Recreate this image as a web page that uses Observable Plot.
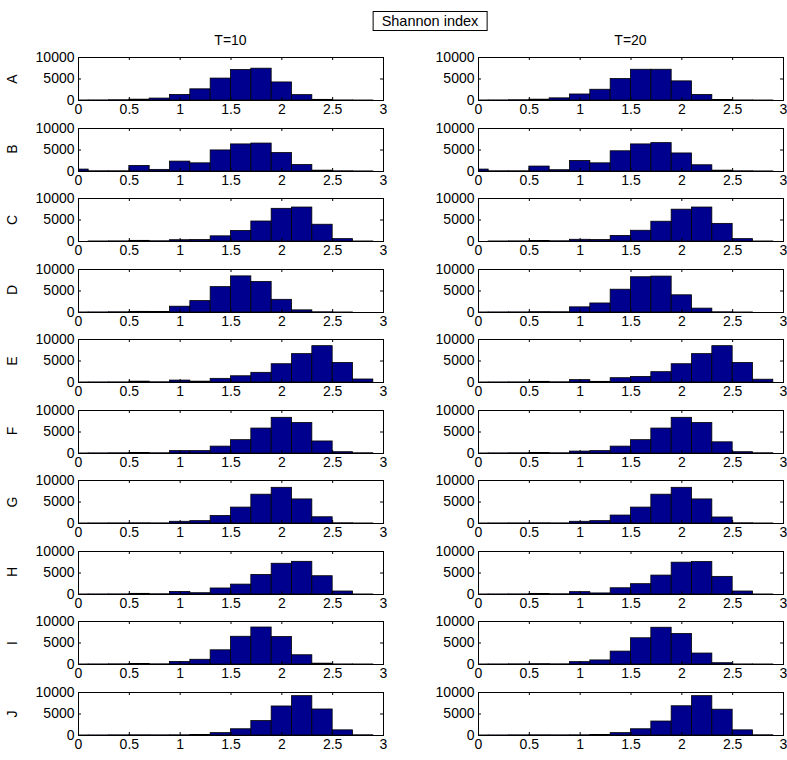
<!DOCTYPE html>
<html><head><meta charset="utf-8">
<script src="https://cdn.jsdelivr.net/npm/d3@7"></script>
<script src="https://cdn.jsdelivr.net/npm/@observablehq/plot@0.6"></script>
<style>
body{margin:0;background:#fff;font-family:"Liberation Sans",Arial,sans-serif;}
#root{position:relative;width:787px;height:760px;overflow:hidden;background:#fff;}
.abs{position:absolute;white-space:nowrap;color:#000;}
</style></head><body><div id="root"></div>
<script>
// ---- data ----
const binCenters = [0, 0.2, 0.4, 0.6, 0.8, 1.0, 1.2, 1.4, 1.6, 1.8, 2.0, 2.2, 2.4, 2.6, 2.8];
const binWidth = 0.2;
const rowLabels = ["A", "B", "C", "D", "E", "F", "G", "H", "I", "J"];
const columnTitles = ["T=10", "T=20"];
const figureTitle = "Shannon index";
const xTicks = [0, 0.5, 1, 1.5, 2, 2.5, 3];
const yTicks = [0, 5000, 10000];

const A_T10 = [10, 20, 60, 200, 450, 1300, 2600, 5100, 7100, 7400, 4200, 1250, 150, 20, 5];
const A_T20 = [10, 20, 60, 200, 500, 1400, 2500, 5000, 7150, 7150, 4450, 1300, 120, 20, 5];
const B_T10 = [450, 50, 50, 1300, 380, 2300, 1900, 4900, 6300, 6500, 4300, 1500, 200, 50, 20];
const B_T20 = [450, 50, 50, 1150, 300, 2450, 1900, 4700, 6300, 6600, 4200, 1450, 200, 50, 20];
const C_T10 = [0, 10, 30, 150, 50, 300, 350, 1200, 2450, 4650, 7600, 7900, 3900, 550, 10];
const C_T20 = [0, 10, 30, 100, 50, 400, 350, 1300, 2500, 4600, 7400, 7900, 4100, 550, 10];
const D_T10 = [10, 20, 50, 150, 100, 1350, 2650, 5900, 8400, 7100, 2950, 500, 50, 10, 0];
const D_T20 = [10, 20, 30, 80, 60, 1200, 2100, 5300, 8200, 8350, 4000, 900, 50, 10, 0];
const E_T10 = [10, 20, 30, 200, 50, 450, 200, 850, 1450, 2250, 4250, 6600, 8450, 4550, 700];
const E_T20 = [10, 20, 30, 150, 50, 550, 150, 1000, 1300, 2400, 4250, 6600, 8450, 4550, 650];
const F_T10 = [10, 30, 50, 100, 50, 550, 550, 1600, 3100, 5800, 8300, 7100, 2800, 300, 50];
const F_T20 = [10, 30, 50, 100, 50, 450, 550, 1600, 3100, 5800, 8300, 7100, 2600, 300, 50];
const G_T10 = [10, 20, 30, 50, 30, 400, 550, 1750, 3700, 6700, 8300, 5600, 1450, 50, 10];
const G_T20 = [10, 20, 30, 50, 30, 400, 550, 1850, 3700, 6700, 8300, 5600, 1400, 50, 10];
const H_T10 = [10, 20, 30, 150, 50, 600, 300, 1400, 2300, 4550, 7150, 7600, 4250, 700, 10];
const H_T20 = [10, 20, 30, 100, 50, 550, 250, 1450, 2400, 4400, 7400, 7550, 4100, 700, 10];
const I_T10 = [10, 20, 40, 100, 40, 600, 1100, 3300, 6450, 8600, 6400, 2150, 200, 20, 10];
const I_T20 = [10, 20, 40, 80, 40, 550, 950, 3000, 6100, 8550, 7100, 2550, 300, 20, 10];
const J_T10 = [10, 20, 40, 50, 40, 50, 100, 550, 1450, 3350, 6750, 9150, 6050, 1200, 50];
const J_T20 = [10, 20, 40, 50, 40, 50, 100, 550, 1450, 3250, 6800, 9150, 6000, 1200, 50];

const series = {
  A: [A_T10, A_T20], B: [B_T10, B_T20], C: [C_T10, C_T20], D: [D_T10, D_T20], E: [E_T10, E_T20],
  F: [F_T10, F_T20], G: [G_T10, G_T20], H: [H_T10, H_T20], I: [I_T10, I_T20], J: [J_T10, J_T20]
};

// ---- layout ----
const panelW = 305, panelH = 43;
const colX = [78, 478];
const top0 = 57, rowStep = 70.56;
const ml = 52, mr = 8, mt = 6, mb = 22;
const FONT = '"Liberation Sans", Arial, Helvetica, sans-serif';
const root = document.getElementById("root");

function addText(txt, x, y, opts = {}) {
  const d = document.createElement("div");
  d.className = "abs";
  d.textContent = txt;
  d.style.left = x + "px";
  d.style.top = y + "px";
  d.style.fontSize = (opts.size || 14) + "px";
  d.style.fontFamily = FONT;
  d.style.transform = "translate(-50%,-50%)" + (opts.rotate ? " rotate(-90deg)" : "");
  if (opts.box) {
    d.style.border = "1px solid #000";
    d.style.padding = "2px 8px";
    d.style.background = "#fff";
    d.style.lineHeight = "14px";
  }
  root.appendChild(d);
  return d;
}

rowLabels.forEach((r, ri) => {
  const top = top0 + ri * rowStep;
  columnTitles.forEach((t, ci) => {
    const counts = series[r][ci];
    const data = binCenters.map((c, i) => ({x1: c - binWidth / 2, x2: c + binWidth / 2, n: counts[i]}));
    const svg = Plot.plot({
      width: panelW + ml + mr,
      height: panelH + mt + mb,
      marginLeft: ml, marginRight: mr, marginTop: mt, marginBottom: mb,
      x: {domain: [0, 3], label: null},
      y: {domain: [0, 10000], label: null},
      style: {fontSize: "14px", fontFamily: FONT, background: "transparent", overflow: "visible", color: "#000"},
      marks: [
        Plot.rectY(data, {x1: "x1", x2: "x2", y: "n", fill: "#00008F", stroke: "#000", strokeWidth: 0.8, clip: true}),
        Plot.tickX(xTicks, {x: d => d, insetTop: panelH - 3, stroke: "#000"}),
        Plot.tickX(xTicks, {x: d => d, insetBottom: panelH - 3, stroke: "#000"}),
        Plot.tickY(yTicks, {y: d => d, insetRight: panelW - 3, stroke: "#000"}),
        Plot.tickY(yTicks, {y: d => d, insetLeft: panelW - 3, stroke: "#000"}),
        Plot.frame({stroke: "#000", strokeWidth: 1}),
        Plot.axisX(xTicks, {tickSize: 0, tickPadding: 4, tickFormat: d => String(d), label: null, fill: "#000"}),
        Plot.axisY(yTicks, {tickSize: 0, tickPadding: 4, tickFormat: d => String(d), label: null, fill: "#000"})
      ]
    });
    svg.style.position = "absolute";
    svg.style.left = (colX[ci] - ml) + "px";
    svg.style.top = (top - mt) + "px";
    root.appendChild(svg);
  });
  addText(r, 12, top + panelH / 2, {rotate: true, size: 14});
});

columnTitles.forEach((t, ci) => addText(t, colX[ci] + panelW / 2, 40, {size: 14}));
addText(figureTitle, 430, 21, {size: 14.5, box: true});
</script></body></html>
